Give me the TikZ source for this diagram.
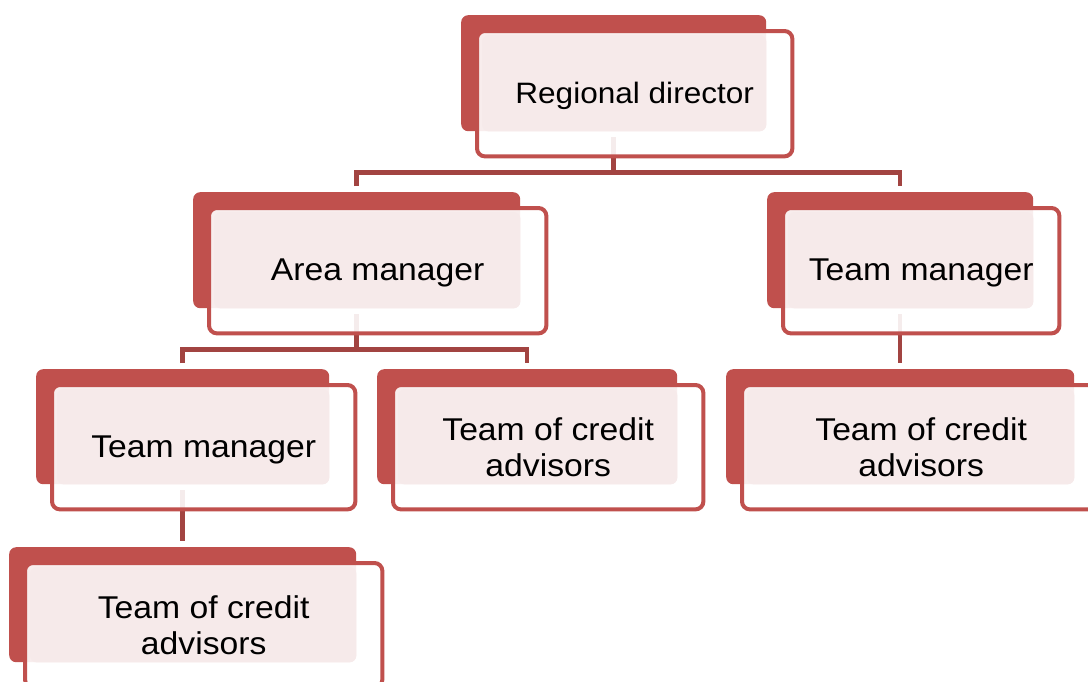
\documentclass[tikz,border=0pt]{standalone}
\usepackage{fontspec}
\setmainfont{Liberation Sans}[FakeStretch=1.07]
\usetikzlibrary{calc,backgrounds}

\definecolor{boxred}{HTML}{C0504D}
\definecolor{boxpink}{HTML}{F6EAEA}
\definecolor{linkred}{HTML}{A24441}

\tikzset{
  backbox/.style={fill=boxred, draw=none, rounded corners=7pt, inner sep=0pt, anchor=north west},
  facebox/.style={fill=boxpink, rounded corners=7pt},
  framebox/.style={draw=boxred, line width=4pt, fill=white, fill opacity=0.9, rounded corners=8pt},
  boxtext/.style={font=\fontsize{31.5}{36}\selectfont, align=center, text=black, inner sep=0pt},
  oneline/.style={yshift=-2.5pt},
  link/.style={draw=linkred, line width=4.5pt},
}

% One org-chart box: [text options], name, top-left x, top-left y, width, height, text
\newcommand\orgbox[7][]{%
  \node[backbox, minimum width=#5pt, minimum height=#6pt] (#2) at (#3,#4) {};
  \draw[framebox] ($(#2.north west)+(16,16)$) rectangle ($(#2.south east)+(26,25)$);
  \fill[facebox] ($(#2.north west)+(21,20)$) rectangle (#2.south east);
  \node[boxtext,#1] (#2-t) at ($(#2.center)+(21,20.5)$) {#7};
}

\begin{document}
\begin{tikzpicture}[x=1pt,y=-1pt]
  \useasboundingbox (0,0) rectangle (1088,681);
  \begin{pgfonlayer}{background}
    \fill[white] (0,0) rectangle (1088,681);
  \end{pgfonlayer}

  \orgbox[oneline]{rd}{461}{15}{305}{116}{\fontsize{29.5}{34}\selectfont Regional director}
  \orgbox[oneline]{am}{193}{192}{327}{116}{Area manager}
  \orgbox[oneline]{tmr}{767}{192}{266}{116}{Team manager}
  \orgbox[oneline]{tml}{36}{369}{293}{115}{Team manager}
  \orgbox{tcm}{377}{369}{300}{115}{Team of credit\\advisors}
  \orgbox{tcr}{726}{369}{348}{115}{Team of credit\\advisors}
  \orgbox{tcb}{9}{547}{347}{115}{Team of credit\\advisors}

  % connectors, kept beneath the boxes
  \begin{pgfonlayer}{background}
    \coordinate (j1) at ($(rd.south)+(0,41)$);
    \coordinate (j2) at ($(am.south)+(0,41)$);
    \draw[link] ($(rd.south)+(0,6)$) -- (j1);
    \draw[link] ($(am.north)+(0,-6)$) |- (j1 -| tmr.north) -- ($(tmr.north)+(0,-6)$);
    \draw[link] ($(am.south)+(0,6)$) -- (j2);
    \draw[link] ($(tml.north)+(0,-6)$) |- (j2 -| tcm.north) -- ($(tcm.north)+(0,-6)$);
    \draw[link] ($(tmr.south)+(0,6)$) -- ($(tcr.north)+(0,-6)$);
    \draw[link] ($(tml.south)+(0,6)$) -- ($(tcb.north)+(0,-6)$);
  \end{pgfonlayer}
\end{tikzpicture}
\end{document}
